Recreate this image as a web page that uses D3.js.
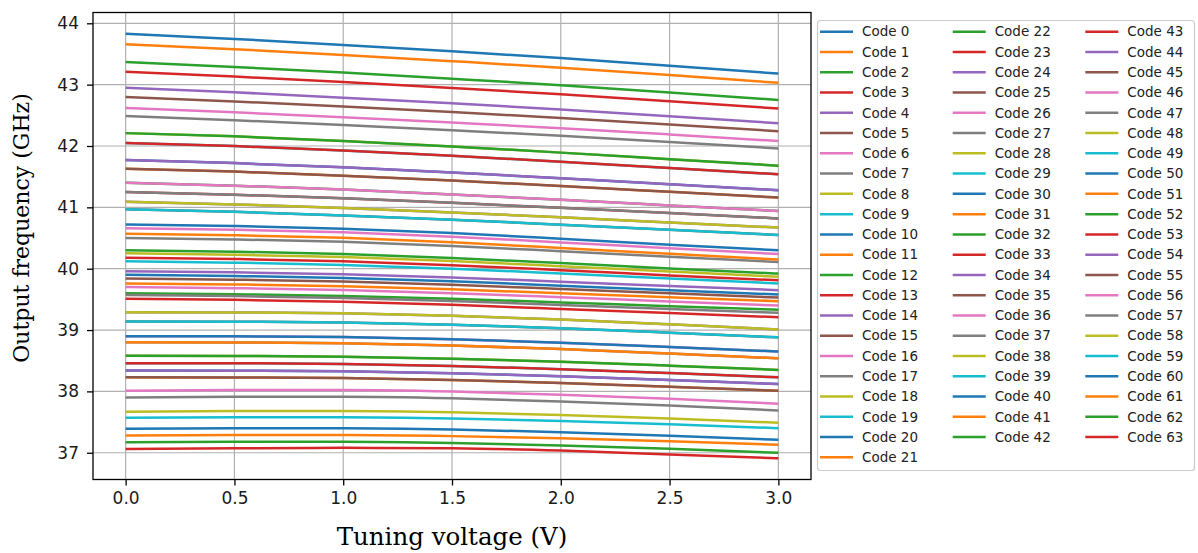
<!DOCTYPE html>
<html><head><meta charset="utf-8">
<script src="https://cdn.jsdelivr.net/npm/d3@7"></script>
<style>body{margin:0;background:#fff}svg{display:block}</style>
</head><body>
<svg id="chart" width="1198" height="553"></svg>
<script>
// ---- data ----
const voltages = [0, 0.5, 1, 1.5, 2, 2.5, 3];
const codes = d3.range(64);
const xTicks = [0, 0.5, 1, 1.5, 2, 2.5, 3];
const yTicks = [37, 38, 39, 40, 41, 42, 43, 44];
const xLabel = "Tuning voltage (V)";
const yLabel = "Output frequency (GHz)";

// output frequency (GHz) of each code (index = code) at each tuning voltage
const freqAt0V = [
 43.83,43.66,43.37,43.21,42.95,42.80,42.62,42.49,
 42.21,42.05,41.77,41.63,41.40,41.25,41.09,40.97,
 40.66,40.50,40.25,40.12,39.90,39.76,39.60,39.51,
 39.29,39.14,38.90,38.80,38.58,38.46,38.34,38.23,
 42.21,42.05,41.77,41.63,41.40,41.25,41.09,40.97,
 40.72,40.57,40.30,40.18,39.96,39.84,39.70,39.57,
 39.29,39.14,38.90,38.80,38.58,38.46,38.34,38.23,
 38.01,37.90,37.67,37.57,37.39,37.28,37.17,37.06];
const freqAt0p5V = [
 43.745,43.578,43.289,43.132,42.875,42.727,42.550,42.421,
 42.157,41.999,41.721,41.583,41.354,41.207,41.048,40.928,
 40.635,40.477,40.227,40.098,39.881,39.743,39.584,39.492,
 39.287,39.137,38.897,38.797,38.578,38.458,38.338,38.228,
 42.157,41.999,41.721,41.583,41.354,41.207,41.048,40.928,
 40.695,40.545,40.277,40.158,39.941,39.821,39.682,39.553,
 39.287,39.137,38.897,38.797,38.578,38.458,38.338,38.228,
 38.021,37.911,37.679,37.579,37.399,37.288,37.179,37.073];
const freqAt1V = [
 43.648,43.484,43.196,43.042,42.788,42.643,42.469,42.342,
 42.083,41.928,41.652,41.517,41.290,41.147,40.989,40.869,
 40.593,40.438,40.189,40.062,39.849,39.714,39.557,39.462,
 39.273,39.124,38.885,38.784,38.566,38.446,38.327,38.217,
 42.083,41.928,41.652,41.517,41.290,41.147,40.989,40.869,
 40.653,40.503,40.239,40.121,39.910,39.790,39.652,39.524,
 39.273,39.124,38.885,38.784,38.566,38.446,38.327,38.217,
 38.021,37.911,37.679,37.579,37.399,37.288,37.179,37.080];
const freqAt1p5V = [
 43.544,43.383,43.097,42.946,42.695,42.554,42.382,42.257,
 41.993,41.841,41.569,41.437,41.211,41.074,40.918,40.798,
 40.521,40.371,40.125,40.001,39.794,39.664,39.511,39.411,
 39.234,39.088,38.850,38.748,38.534,38.414,38.296,38.186,
 41.993,41.841,41.569,41.437,41.211,41.074,40.918,40.798,
 40.581,40.431,40.175,40.058,39.858,39.738,39.601,39.474,
 39.234,39.088,38.850,38.748,38.534,38.414,38.296,38.186,
 37.997,37.887,37.659,37.560,37.379,37.271,37.160,37.072];
const freqAt2V = [
 43.433,43.276,42.992,42.844,42.596,42.458,42.291,42.167,
 41.892,41.744,41.476,41.348,41.124,40.992,40.838,40.718,
 40.429,40.285,40.041,39.922,39.724,39.600,39.451,39.345,
 39.172,39.031,38.795,38.691,38.483,38.363,38.248,38.138,
 41.892,41.744,41.476,41.348,41.124,40.992,40.838,40.718,
 40.489,40.339,40.091,39.976,39.789,39.669,39.535,39.410,
 39.172,39.031,38.795,38.691,38.483,38.363,38.248,38.138,
 37.947,37.837,37.616,37.519,37.336,37.235,37.119,37.035];
const freqAt2p5V = [
 43.310,43.156,42.874,42.730,42.486,42.352,42.188,42.066,
 41.786,41.642,41.378,41.254,41.032,40.906,40.754,40.634,
 40.332,40.196,39.954,39.839,39.650,39.534,39.389,39.276,
 39.094,38.958,38.725,38.618,38.419,38.299,38.186,38.076,
 41.786,41.642,41.378,41.254,41.032,40.906,40.754,40.634,
 40.392,40.242,40.004,39.891,39.718,39.598,39.466,39.344,
 39.094,38.958,38.725,38.618,38.419,38.299,38.186,38.076,
 37.880,37.770,37.558,37.465,37.278,37.187,37.065,36.970];
const freqAt3V = [
 43.18,43.03,42.75,42.61,42.37,42.24,42.08,41.96,
 41.68,41.54,41.28,41.16,40.94,40.82,40.67,40.55,
 40.24,40.11,39.87,39.76,39.58,39.47,39.33,39.21,
 39.01,38.88,38.65,38.54,38.35,38.23,38.12,38.01,
 41.68,41.54,41.28,41.16,40.94,40.82,40.67,40.55,
 40.30,40.15,39.92,39.81,39.65,39.53,39.40,39.28,
 39.01,38.88,38.65,38.54,38.35,38.23,38.12,38.01,
 37.80,37.69,37.49,37.40,37.21,37.13,37.00,36.91];
const palette = ["#1f77b4","#ff7f0e","#2ca02c","#d62728","#9467bd",
                 "#8c564b","#e377c2","#7f7f7f","#bcbd22","#17becf"];

// ---- chart ----
const freqByVoltage = [freqAt0V, freqAt0p5V, freqAt1V, freqAt1p5V, freqAt2V, freqAt2p5V, freqAt3V];
const series = codes.map(c => voltages.map((v, i) => ({v, f: freqByVoltage[i][c]})));

const svg = d3.select("#chart");
const L = 93, R = 811, T = 12.5, B = 479.5;

const allF = freqByVoltage.flat();
const fMin = d3.min(allF), fMax = d3.max(allF), pad = (fMax - fMin) * 0.05;
const x = d3.scaleLinear().domain([-0.15, 3.15]).range([L, R]);
const y = d3.scaleLinear().domain([fMin - pad, fMax + pad]).range([B, T]);

// grid
const grid = svg.append("g").attr("stroke", "#b0b0b0").attr("stroke-width", 1.2);
grid.selectAll(".gx").data(xTicks).join("line")
  .attr("x1", d => x(d)).attr("x2", d => x(d)).attr("y1", T).attr("y2", B);
grid.selectAll(".gy").data(yTicks).join("line")
  .attr("y1", d => y(d)).attr("y2", d => y(d)).attr("x1", L).attr("x2", R);

// lines
const line = d3.line().x(d => x(d.v)).y(d => y(d.f)).curve(d3.curveMonotoneX);
svg.append("g").selectAll("path").data(series).join("path")
  .attr("d", line).attr("fill", "none")
  .attr("stroke", (d, i) => palette[i % 10]).attr("stroke-width", 2.5);

// axes
const tickFont = "'DejaVu Sans', sans-serif";
const xAxis = svg.append("g").attr("transform", `translate(0,${B})`)
  .call(d3.axisBottom(x).tickValues(xTicks).tickFormat(d3.format(".1f")).tickSize(6).tickPadding(6));
const yAxis = svg.append("g").attr("transform", `translate(${L},0)`)
  .call(d3.axisLeft(y).tickValues(yTicks).tickFormat(d3.format("d")).tickSize(6).tickPadding(8));
[xAxis, yAxis].forEach(a => {
  a.select(".domain").remove();
  a.selectAll(".tick line").attr("stroke", "#000").attr("stroke-width", 1.3);
  a.selectAll(".tick text").attr("font-family", tickFont).attr("font-size", 17).attr("fill", "#1a1a1a");
});

// spines
svg.append("rect").attr("x", L).attr("y", T).attr("width", R - L).attr("height", B - T)
  .attr("fill", "none").attr("stroke", "#000").attr("stroke-width", 1.3);

// labels
svg.append("text").attr("x", (L + R) / 2).attr("y", 545).attr("text-anchor", "middle")
  .attr("font-family", "'DejaVu Serif', serif").attr("font-size", 24.5).attr("fill", "#000").text(xLabel);
svg.append("text").attr("transform", "translate(29,228) rotate(-90)").attr("text-anchor", "middle")
  .attr("font-family", "'DejaVu Serif', serif").attr("font-size", 22).attr("fill", "#000").text(yLabel);

// legend
const lg = svg.append("g");
lg.append("rect").attr("x", 817.5).attr("y", 20.5).attr("width", 377).attr("height", 450).attr("rx", 3)
  .attr("fill", "#fff").attr("fill-opacity", 0.8).attr("stroke", "#cccccc").attr("stroke-width", 1.2);
const colStarts = [0, 22, 43];
const colX = [820, 952.7, 1085.3];
codes.forEach(c => {
  const col = c < 22 ? 0 : (c < 43 ? 1 : 2);
  const row = c - colStarts[col];
  const yy = 31.7 + row * 20.27;
  const x0 = colX[col];
  lg.append("line").attr("x1", x0).attr("x2", x0 + 33).attr("y1", yy).attr("y2", yy)
    .attr("stroke", palette[c % 10]).attr("stroke-width", 2.5);
  lg.append("text").attr("x", x0 + 42).attr("y", yy).attr("dy", "0.35em")
    .attr("font-family", tickFont).attr("font-size", 13.5).attr("fill", "#222").text("Code " + c);
});
</script>
</body></html>
